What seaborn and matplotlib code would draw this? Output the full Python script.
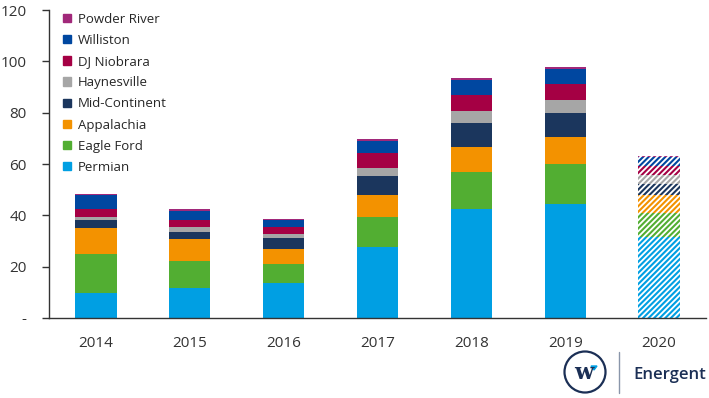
import matplotlib
matplotlib.use("Agg")
import matplotlib.pyplot as plt
import matplotlib.patches as mpatches
import numpy as np
import pandas as pd
import seaborn as sns

years = ["2014", "2015", "2016", "2017", "2018", "2019", "2020"]
basins = ["Permian", "Eagle Ford", "Appalachia", "Mid-Continent",
          "Haynesville", "DJ Niobrara", "Williston", "Powder River"]
permian = [9.9, 11.7, 13.5, 27.5, 42.3, 44.5, 31.4]
eagle_ford = [15.0, 10.5, 7.4, 12.0, 14.5, 15.4, 9.4]
appalachia = [10.0, 8.5, 5.9, 8.3, 9.7, 10.5, 7.1]
mid_continent = [3.1, 2.9, 4.2, 7.6, 9.3, 9.3, 4.2]
haynesville = [1.5, 1.7, 1.9, 3.0, 4.7, 5.3, 3.6]
dj_niobrara = [2.8, 2.9, 2.5, 5.8, 6.3, 6.3, 3.6]
williston = [5.6, 3.5, 2.8, 4.8, 5.9, 5.8, 3.5]
powder_river = [0.4, 0.8, 0.4, 0.6, 0.8, 0.5, 0.4]
forecast_year = "2020"

colors = ["#009FE3", "#52AE32", "#F39200", "#1B365D",
          "#A6A6A6", "#A50044", "#0047A0", "#A1287A"]

sns.set_style("white")
plt.rcParams['font.family'] = ['Open Sans', 'DejaVu Sans']
plt.rcParams['hatch.linewidth'] = 1.5

series = [permian, eagle_ford, appalachia, mid_continent,
          haynesville, dj_niobrara, williston, powder_river]
df = pd.DataFrame(dict(zip(basins, series)), index=years)
cum = df.cumsum(axis=1)

fig = plt.figure(figsize=(7.09, 3.98), dpi=100)
ax = fig.add_axes([49/709, 1 - 318/398, 657/709, 308/398])

# stacked bars: draw cumulative totals from the top layer down
for i in reversed(range(len(basins))):
    n_before = len(ax.patches)
    sns.barplot(x=years, y=cum[basins[i]].values, order=years, color=colors[i],
                saturation=1, width=0.44, errorbar=None, ax=ax)
    for p, yr in zip(ax.patches[n_before:], years):
        p.set_linewidth(0)
        if yr == forecast_year:
            p.set_facecolor("white")
            p.set_edgecolor(colors[i])
            p.set_hatch("//////")

ax.set_xlim(-0.5, len(years) - 0.5)
ax.set_ylim(0, 120)
ax.set_yticks(np.arange(0, 121, 20))
ax.set_yticklabels(["-"] + [str(v) for v in range(20, 121, 20)])
ax.set_xlabel("")
ax.set_ylabel("")
ax.set_xticks(np.arange(-0.5, len(years), 1), minor=True)
ax.tick_params(axis="x", which="major", length=0, pad=13, labelsize=11, colors="#333333")
ax.tick_params(axis="x", which="minor", length=5, width=1, color="#333333", direction="out")
ax.tick_params(axis="y", length=5, width=1, color="#333333", labelsize=11,
               labelcolor="#333333", pad=11, left=True)
for s in ["top", "right"]:
    ax.spines[s].set_visible(False)
for s in ["left", "bottom"]:
    ax.spines[s].set_color("#333333")
    ax.spines[s].set_linewidth(1)

handles = [mpatches.Patch(color=colors[i], label=basins[i]) for i in reversed(range(len(basins)))]
ax.legend(handles=handles, loc="upper left", bbox_to_anchor=(0.01, 1.017), frameon=False,
          fontsize=9.5, handlelength=0.6, handleheight=0.6, handletextpad=0.5,
          labelspacing=0.62, borderaxespad=0.2)

# logo
lax = fig.add_axes([540/709, 0, 169/709, 50/398])
lax.set_xlim(0, 169)
lax.set_ylim(0, 50)
lax.axis("off")
navy = "#1B2F55"
lax.add_patch(mpatches.Circle((45, 26), 20.5, fill=False, edgecolor=navy, linewidth=1.6))
lax.text(44, 25, "w", fontsize=16, fontweight="bold", family="DejaVu Serif",
         color=navy, ha="center", va="center")
lax.add_patch(mpatches.Polygon([[51, 32], [57, 32], [54, 28]], color="#009FE3"))
lax.plot([79, 79], [5, 46], color="#8A96AA", linewidth=1)
lax.text(93, 23, "Energent", fontsize=12, fontweight="semibold", color=navy,
         ha="left", va="center")

fig.savefig("out.png", dpi=100)
